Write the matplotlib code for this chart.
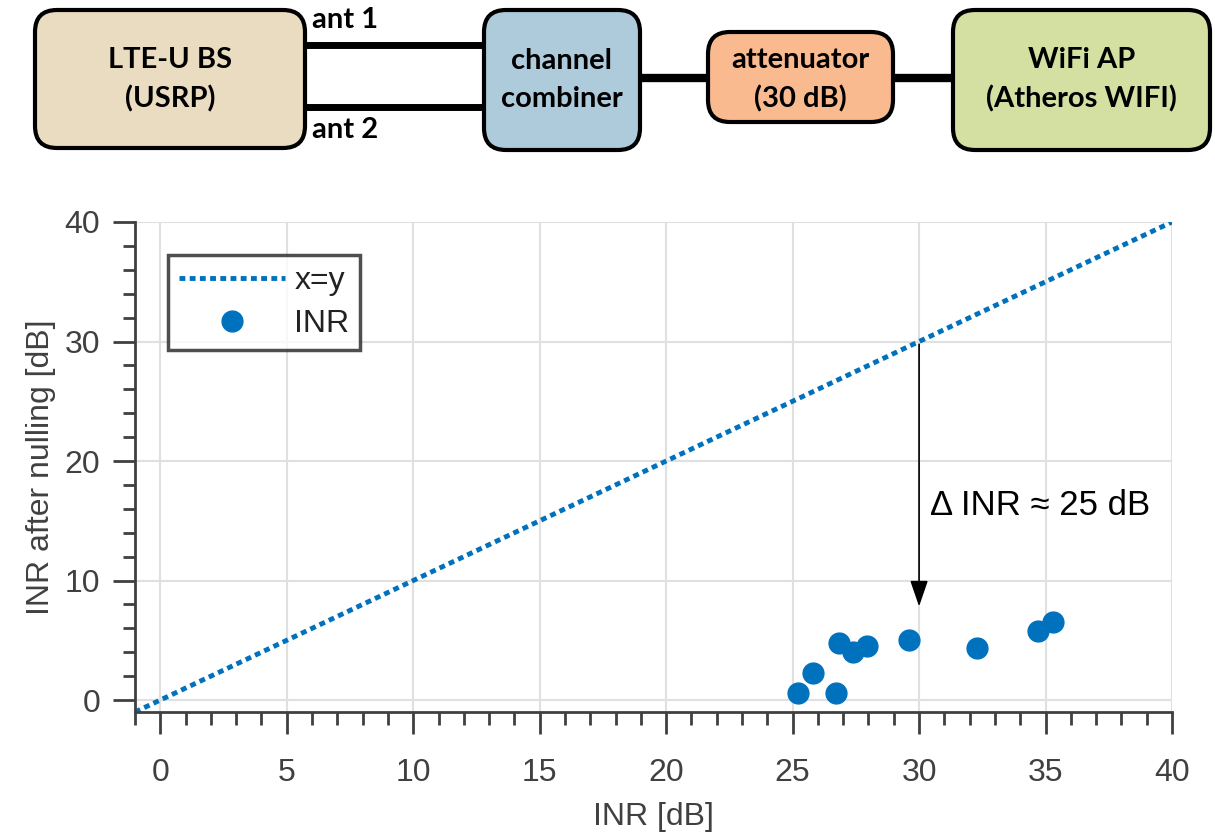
import numpy as np
import matplotlib.pyplot as plt
from matplotlib.patches import FancyBboxPatch
from matplotlib.ticker import MultipleLocator

# measured points
inr = [25.2, 25.8, 26.7, 26.85, 27.4, 27.95, 29.6, 32.3, 34.7, 35.3]
inr_after = [0.55, 2.3, 0.55, 4.75, 4.05, 4.5, 5.0, 4.35, 5.8, 6.55]
diag = [-1, 40]

# block diagram
blocks = ["LTE-U BS\n(USRP)", "channel\ncombiner", "attenuator\n(30 dB)", "WiFi AP\n(Atheros WIFI)"]
block_colors = ["#EADCC0", "#AECBDC", "#F9BA90", "#D4E0A2"]
ant_labels = ["ant 1", "ant 2"]
delta_text = "\u0394 INR \u2248 25 dB"

blue = "#0072BD"
gray = "#404040"

plt.rcParams['font.family'] = ['Liberation Sans', 'DejaVu Sans']

fig = plt.figure(figsize=(12.15, 8.38), dpi=100)

# --- top: block diagram in pixel coordinates
top = fig.add_axes([0, 0, 1, 1])
top.set_xlim(0, 1215)
top.set_ylim(838, 0)
top.axis('off')

boxes = [(35, 10, 270, 138), (484, 10, 156, 140), (708, 32, 185, 90), (953, 10, 257, 140)]
for (x, y, w, h), label, c in zip(boxes, blocks, block_colors):
    top.add_patch(FancyBboxPatch((x, y), w, h, boxstyle="round,pad=0,rounding_size=22",
                                 fc=c, ec="black", lw=3, zorder=2))
    top.text(x + w / 2, 80, label, ha='center', va='center', fontsize=21,
             fontweight='bold', family='Lato', linespacing=1.55, zorder=3)

top.plot([305, 484], [45, 45], color='black', lw=5, zorder=1)
top.plot([305, 484], [107, 107], color='black', lw=5, zorder=1)
top.plot([640, 708], [78, 78], color='black', lw=6, zorder=1)
top.plot([893, 953], [78, 78], color='black', lw=6, zorder=1)
top.text(312, 20, ant_labels[0], fontsize=21, fontweight='bold', family='Lato', va='center')
top.text(312, 130, ant_labels[1], fontsize=21, fontweight='bold', family='Lato', va='center')

# --- bottom: scatter plot
ax = fig.add_axes([135 / 1215, 1 - 712 / 838, (1172 - 135) / 1215, (712 - 222) / 838])
ax.plot(diag, diag, linestyle=(0, (1.2, 0.9)), color=blue, lw=3.5, label='x=y')
ax.plot(inr, inr_after, 'o', color=blue, ms=15, label='INR', linestyle='none')

ax.annotate('', xy=(30, 7.6), xytext=(30, 30),
            arrowprops=dict(arrowstyle='-|>,head_length=1.6,head_width=0.55', color='black', lw=1.2))
ax.text(30.45, 16.3, delta_text, fontsize=25, va='center', ha='left', color='black')

ax.set_xlim(-1, 40)
ax.set_ylim(-1, 40)
ax.xaxis.set_major_locator(MultipleLocator(5))
ax.xaxis.set_minor_locator(MultipleLocator(1))
ax.yaxis.set_major_locator(MultipleLocator(10))
ax.yaxis.set_minor_locator(MultipleLocator(2))
ax.grid(True, which='major', color='#E0E0E0', lw=1.5)
ax.set_axisbelow(True)
for s in ['top', 'right']:
    ax.spines[s].set_visible(False)
for s in ['left', 'bottom']:
    ax.spines[s].set_color(gray)
    ax.spines[s].set_linewidth(2)
ax.tick_params(which='major', direction='out', length=16, width=2, color=gray,
               labelcolor=gray, labelsize=23, pad=9)
ax.tick_params(axis='x', which='major', pad=17)
ax.tick_params(which='minor', direction='out', length=9, width=2, color=gray)
ax.set_xlabel('INR [dB]', fontsize=23, color=gray, labelpad=10)
ax.set_ylabel('INR after nulling [dB]', fontsize=23, color=gray, labelpad=6)

leg = ax.legend(loc='upper left', bbox_to_anchor=(168 / 1215, 1 - 255 / 838), bbox_transform=fig.transFigure,
                fontsize=23, frameon=True, fancybox=False, edgecolor='#222222', handlelength=3.3,
                borderpad=0.35, labelspacing=0.4, handletextpad=0.3, borderaxespad=0)
leg.get_frame().set_linewidth(2.5)
for t in leg.get_texts():
    t.set_color('#222222')

fig.savefig('out.png', dpi=100)
